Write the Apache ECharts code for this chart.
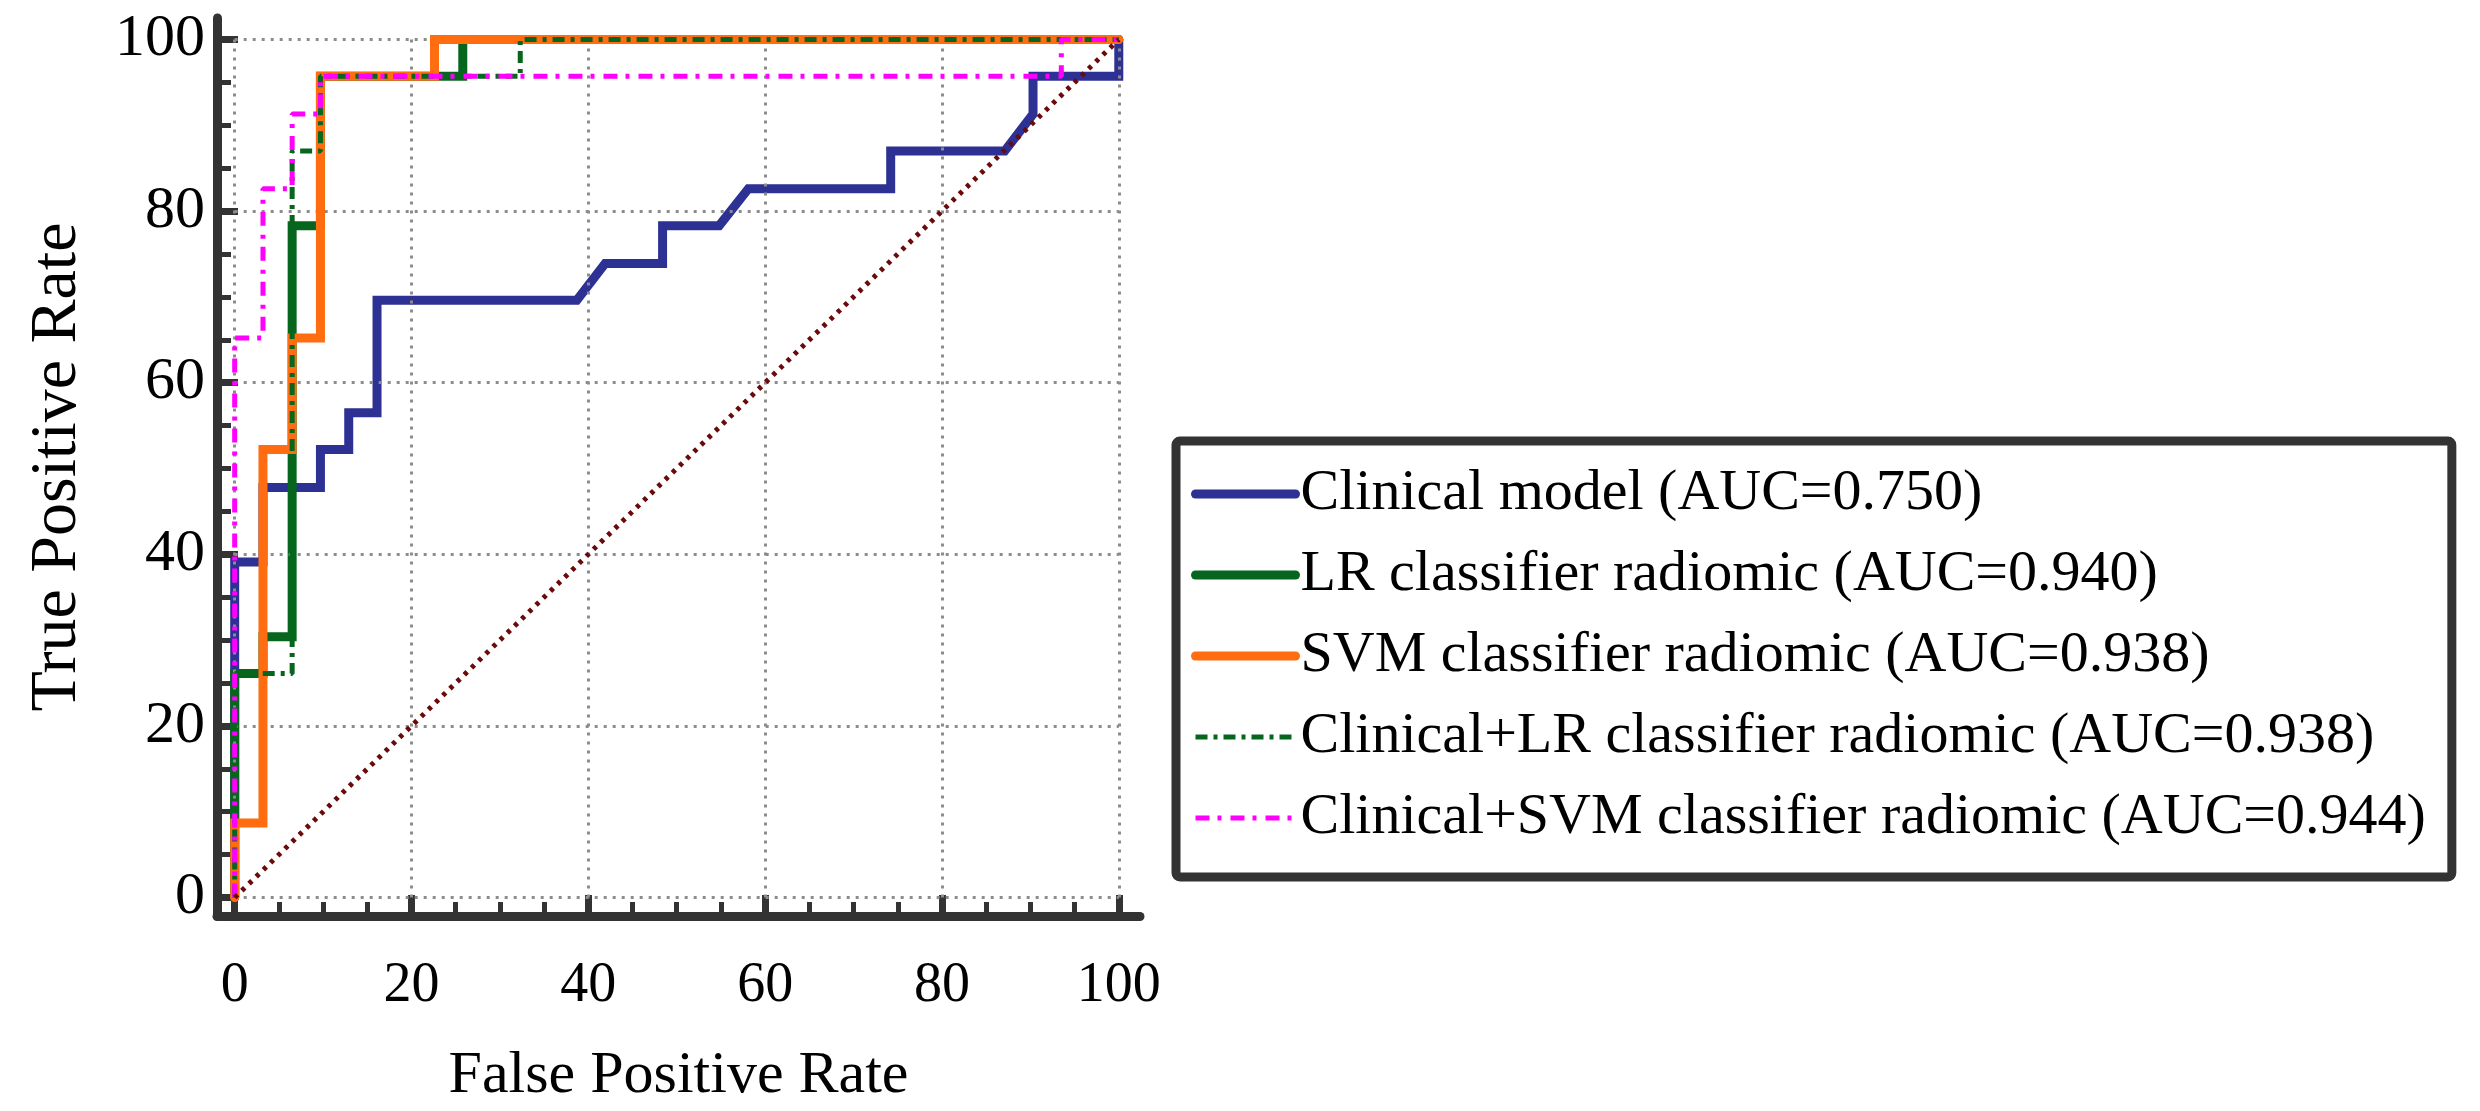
<!DOCTYPE html>
<html>
<head>
<meta charset="utf-8">
<title>ROC curves</title>
<script src="https://cdn.jsdelivr.net/npm/echarts@6/dist/echarts.min.js"></script>
<style>
  html, body { margin: 0; padding: 0; background: #fff; }
  #main { width: 2480px; height: 1111px; }
</style>
</head>
<body>
<div id="main"></div>
<script>
// axis ticks
var majorTicks = [0, 20, 40, 60, 80, 100];
var minorTicks = [5, 10, 15, 25, 30, 35, 45, 50, 55, 65, 70, 75, 85, 90, 95];

var names = [
  'Clinical model (AUC=0.750)',
  'LR classifier radiomic (AUC=0.940)',
  'SVM classifier radiomic (AUC=0.938)',
  'Clinical+LR classifier radiomic (AUC=0.938)',
  'Clinical+SVM classifier radiomic (AUC=0.944)'
];

// curves (false positive rate, true positive rate)
var clinicalX = [0, 0, 3.2, 3.2, 9.7, 9.7, 12.9, 12.9, 16.1, 16.1, 38.7, 41.9, 48.4, 48.4, 54.8, 58.1, 74.2, 74.2, 87.1, 90.3, 90.3, 100, 100];
var clinicalY = [0, 39.1, 39.1, 47.8, 47.8, 52.2, 52.2, 56.5, 56.5, 69.6, 69.6, 73.9, 73.9, 78.3, 78.3, 82.6, 82.6, 87.0, 87.0, 91.3, 95.7, 95.7, 100];

var lrX = [0, 0, 3.2, 3.2, 6.5, 6.5, 9.7, 9.7, 25.8, 25.8, 100];
var lrY = [0, 26.1, 26.1, 30.4, 30.4, 78.3, 78.3, 95.7, 95.7, 100, 100];

var svmX = [0, 0, 3.2, 3.2, 6.5, 6.5, 9.7, 9.7, 22.6, 22.6, 100];
var svmY = [0, 8.7, 8.7, 52.2, 52.2, 65.2, 65.2, 95.7, 95.7, 100, 100];

var clinLrX = [0, 0, 6.5, 6.5, 9.7, 9.7, 32.3, 32.3, 100];
var clinLrY = [0, 26.1, 26.1, 87.0, 87.0, 95.7, 95.7, 100, 100];

var clinSvmX = [0, 0, 3.2, 3.2, 6.5, 6.5, 9.7, 9.7, 93.5, 93.5, 100];
var clinSvmY = [0, 65.2, 65.2, 82.6, 82.6, 91.3, 91.3, 95.7, 95.7, 100, 100];

var chanceX = [0, 100];
var chanceY = [0, 100];

function pairs(xs, ys) {
  return xs.map(function (x, i) { return [x, ys[i]]; });
}

var gridLines = [];
majorTicks.forEach(function (t) {
  gridLines.push([{ coord: [t, 0] }, { coord: [t, 100] }]);
  gridLines.push([{ coord: [0, t] }, { coord: [100, t] }]);
});

var font = '"Liberation Serif", "Times New Roman", serif';
var axisColor = '#333';

function mainAxis(pos, extra) {
  var a = {
    type: 'value',
    position: pos,
    axisLine: { show: true, onZero: false, lineStyle: { color: axisColor, width: 9, cap: 'round' } },
    axisTick: { show: true, inside: true, length: 21, customValues: majorTicks,
      lineStyle: { color: axisColor, width: 7 } },
    splitLine: { show: false },
    nameLocation: 'middle'
  };
  return Object.assign(a, extra);
}

function minorAxis(pos, min, max) {
  return {
    type: 'value', position: pos, min: min, max: max,
    axisLine: { show: false, onZero: false },
    axisTick: { show: true, inside: true, length: 14, customValues: minorTicks,
      lineStyle: { color: axisColor, width: 5 } },
    axisLabel: { show: false },
    splitLine: { show: false }
  };
}

var chart = echarts.init(document.getElementById('main'));

var option = {
  backgroundColor: '#fff',
  animation: false,
  grid: { left: 217, top: 18, right: 1340, bottom: 169, containLabel: false },
  xAxis: [
    mainAxis('bottom', {
      min: -2, max: 102.4,
      axisLabel: { customValues: majorTicks, margin: 42, color: '#000', fontFamily: font, fontSize: 56 },
      name: 'False Positive Rate', nameGap: 130,
      nameTextStyle: { color: '#000', fontFamily: font, fontSize: 60 }
    }),
    minorAxis('bottom', -2, 102.4)
  ],
  yAxis: [
    mainAxis('left', {
      min: -2.15, max: 102.5,
      axisLabel: { customValues: majorTicks, margin: 12, color: '#000', fontFamily: font, fontSize: 60 },
      name: 'True Positive Rate', nameGap: 126, nameRotate: 90,
      nameTextStyle: { color: '#000', fontFamily: font, fontSize: 66 }
    }),
    minorAxis('left', -2.15, 102.5)
  ],
  legend: {
    orient: 'vertical',
    left: 1176, top: 441,
    padding: [24, 26, 30, 15],
    itemGap: 23,
    itemWidth: 100,
    itemHeight: 20,
    borderColor: axisColor,
    borderWidth: 9,
    borderRadius: 4,
    backgroundColor: '#fff',
    data: names,
    itemStyle: { opacity: 0 },
    lineStyle: { width: 'inherit' },
    textStyle: { color: '#000', fontFamily: font, fontSize: 58, lineHeight: 58 }
  },
  series: [
    {
      name: 'grid', type: 'line', data: [], silent: true, z: 1,
      markLine: {
        silent: true, symbol: ['none', 'none'], label: { show: false },
        lineStyle: { color: '#8c8c8c', width: 3, type: [3, 6] },
        emphasis: { disabled: true },
        data: gridLines
      }
    },
    {
      name: names[0], type: 'line', symbol: 'none', z: 3, data: pairs(clinicalX, clinicalY),
      itemStyle: { color: '#2d3193' },
      lineStyle: { color: '#2d3193', width: 9, join: 'miter', cap: 'round' }
    },
    {
      name: names[1], type: 'line', symbol: 'none', z: 4, data: pairs(lrX, lrY),
      itemStyle: { color: '#07661d' },
      lineStyle: { color: '#07661d', width: 9, join: 'miter', cap: 'round' }
    },
    {
      name: names[2], type: 'line', symbol: 'none', z: 5, data: pairs(svmX, svmY),
      itemStyle: { color: '#ff6d10' },
      lineStyle: { color: '#ff6d10', width: 9, join: 'miter', cap: 'round' }
    },
    {
      name: names[3], type: 'line', symbol: 'none', z: 6, data: pairs(clinLrX, clinLrY),
      itemStyle: { color: '#07661d' },
      lineStyle: { color: '#07661d', width: 5, type: [12, 6, 4, 6] }
    },
    {
      name: names[4], type: 'line', symbol: 'none', z: 7, data: pairs(clinSvmX, clinSvmY),
      itemStyle: { color: '#ff00ff' },
      lineStyle: { color: '#ff00ff', width: 5, type: [14, 8, 4, 9] }
    },
    {
      name: 'chance', type: 'line', symbol: 'none', z: 8, data: pairs(chanceX, chanceY),
      lineStyle: { color: '#6b0a0a', width: 5, type: [4, 6] }
    }
  ]
};

chart.setOption(option);
</script>
</body>
</html>
